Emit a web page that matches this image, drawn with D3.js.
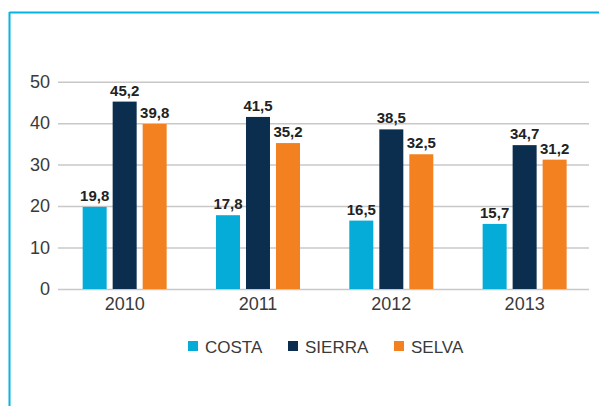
<!DOCTYPE html>
<html><head><meta charset="utf-8">
<script src="https://cdn.jsdelivr.net/npm/d3@7"></script>
<style>html,body{margin:0;padding:0;background:#fff;}svg{display:block;}</style>
</head><body>
<script>
const years = ["2010","2011","2012","2013"];
const seriesNames = ["COSTA","SIERRA","SELVA"];
const costa = [19.8, 17.8, 16.5, 15.7];
const sierra = [45.2, 41.5, 38.5, 34.7];
const selva = [39.8, 35.2, 32.5, 31.2];
const yTicks = [0,10,20,30,40,50];
const colors = ["#05acd8","#0b2e4f","#f48120"];

const W = 599, H = 406;
const svg = d3.select("body").append("svg").attr("width", W).attr("height", H);

// frame
svg.append("line").attr("x1",9.5).attr("x2",W).attr("y1",12.5).attr("y2",12.5).attr("stroke","#05b4e2").attr("stroke-width",2);
svg.append("line").attr("x1",9.5).attr("x2",9.5).attr("y1",12).attr("y2",H).attr("stroke","#05b4e2").attr("stroke-width",2);

const x0 = 58, x1 = 589, yTop = 81.7, yBot = 289;
const x = d3.scaleBand().domain(years).range([x0, x0 + 533.3]);
const y = d3.scaleLinear().domain([0,50]).range([yBot, yTop]);
const xs = d3.scaleBand().domain(seriesNames).range([0, 84]).paddingInner(0.2).paddingOuter(0);

// grid
const yAxis = d3.axisLeft(y).tickValues(yTicks).tickSize(-(x1-x0)).tickPadding(8).tickFormat(d3.format("d"));
const ga = svg.append("g").attr("transform", `translate(${x0},0)`).call(yAxis);
ga.select(".domain").remove();
ga.selectAll(".tick line").attr("stroke","#c8c8c8").attr("stroke-width",1.5);
ga.selectAll(".tick text").attr("font-family","Liberation Sans, Arial, sans-serif").attr("font-size",18).attr("fill","#3a3a3a");

const data = [costa, sierra, selva];
seriesNames.forEach((s, si) => {
  const g = svg.append("g");
  years.forEach((yr, i) => {
    const v = data[si][i];
    const bx = x(yr) + x.bandwidth()/2 - 42 + xs(s);
    g.append("rect").attr("x", bx).attr("y", y(v)).attr("width", xs.bandwidth()).attr("height", yBot - y(v)).attr("fill", colors[si]);
    g.append("text").attr("x", bx + xs.bandwidth()/2).attr("y", y(v) - 6).attr("text-anchor","middle")
      .attr("font-family","Liberation Sans, Arial, sans-serif").attr("font-weight","bold").attr("font-size",15).attr("fill","#222")
      .text(String(v.toFixed(1)).replace(".", ","));
  });
});

// x axis labels
const xAxis = d3.axisBottom(x).tickSize(0).tickPadding(8);
const gx = svg.append("g").attr("transform", `translate(0,${yBot})`).call(xAxis);
gx.select(".domain").remove();
gx.selectAll(".tick text").attr("font-family","Liberation Sans, Arial, sans-serif").attr("font-size",18).attr("fill","#3a3a3a");

// legend
const legX = [188, 288, 394];
seriesNames.forEach((s, i) => {
  svg.append("rect").attr("x", legX[i]).attr("y", 341).attr("width", 10).attr("height", 10).attr("fill", colors[i]);
  svg.append("text").attr("x", legX[i] + 17).attr("y", 353).attr("font-family","Liberation Sans, Arial, sans-serif")
    .attr("font-size",17).attr("fill","#3a3a3a").text(s);
});
</script>
</body></html>
